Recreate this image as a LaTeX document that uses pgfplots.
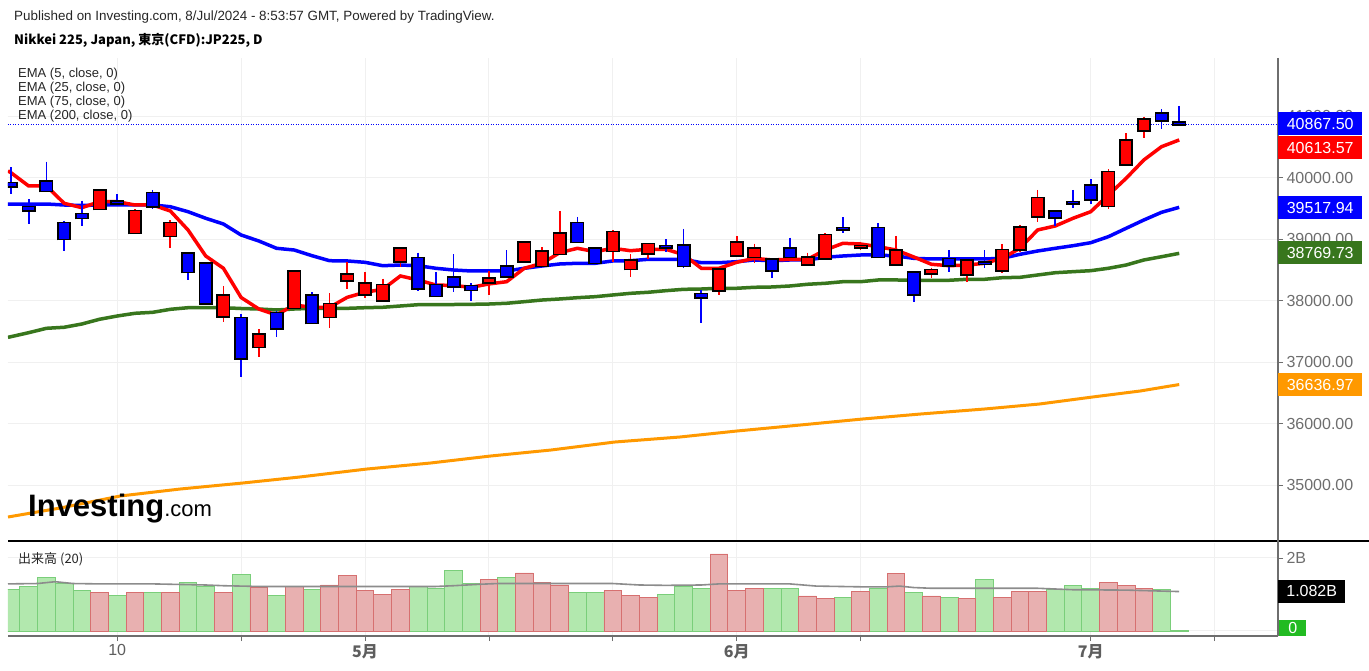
\documentclass[border=0pt]{standalone}
\usepackage{fontspec}
\setmainfont{Liberation Sans}
\newfontfamily\cjk{Noto Sans CJK JP}
\usepackage{pgfplots}
\usepackage{pgfplotstable}
\pgfplotsset{compat=1.18}

\definecolor{emagreen}{RGB}{56,118,29}
\definecolor{emaorange}{RGB}{255,153,0}
\definecolor{volred}{RGB}{232,176,176}
\definecolor{volredd}{RGB}{214,112,112}
\definecolor{volgreen}{RGB}{178,232,174}
\definecolor{volgreend}{RGB}{122,206,122}
\definecolor{gridc}{RGB}{240,240,240}
\definecolor{tickc}{RGB}{110,110,110}
\definecolor{zerogreen}{RGB}{34,187,34}

% x open high low close
\pgfplotstableread{
x O H L C
5 39496 39810 39480 39789
7 39106 39486 39096 39454
9 39057 39312 38852 39259
12 37751 38239 37659 38081
14 37252 37535 37080 37447
16 37886 38480 37880 38472
18 37740 38120 37561 37942
19 38332 38629 38195 38423
20 38109 38467 38049 38276
21 38011 38358 37974 38250
22 38646 38868 38553 38841
27 38299 38483 38093 38353
29 38646 38966 38629 38943
30 38569 38873 38553 38792
31 38764 39459 38743 39089
34 38813 39150 38634 39112
35 38520 38759 38390 38646
36 38771 38930 38678 38917
40 38174 38510 38093 38499
41 38738 39052 38730 38943
42 38715 38927 38608 38841
45 38592 38781 38585 38694
46 38689 39096 38680 39063
48 38870 38959 38824 38885
50 38597 39052 38590 38813
52 38450 38537 38364 38494
54 38429 38660 38299 38646
56 38499 38922 38446 38820
57 38841 39231 38797 39187
58 39372 39800 39275 39665
62 39545 40137 39491 40088
63 40223 40722 40206 40597
64 40771 40992 40641 40938
}\upc
\pgfplotstableread{
x O H L C
0 39909 40169 39735 39865
1 39519 39649 39247 39475
2 39935 40260 39770 39789
3 39259 39296 38808 39008
4 39405 39626 39220 39350
6 39610 39730 39556 39590
8 39746 39800 39486 39540
10 38764 38780 38337 38472
11 38597 38610 37950 37958
13 37714 37784 36764 37063
15 37795 37833 37415 37551
17 38081 38137 37630 37642
23 38689 38781 38163 38202
24 38250 38467 38075 38081
25 38377 38759 38146 38239
26 38234 38283 38000 38179
28 38548 38824 38364 38402
32 39259 39361 38950 38959
33 38841 38873 38610 38618
37 38885 38998 38787 38870
38 38889 39166 38537 38569
39 38104 38174 37633 38055
43 38667 38680 38364 38494
44 38841 39024 38705 38715
47 39180 39356 39096 39160
49 39177 39259 38705 38715
51 38450 38460 37984 38104
53 38673 38824 38472 38576
55 38620 38824 38527 38600
59 39447 39460 39220 39356
60 39600 39800 39512 39585
61 39870 39974 39567 39649
65 41036 41112 40787 40938
66 40890 41166 40850 40867.5
}\dnc

\pgfplotsset{
  wick/.style={draw=none, mark=none, error bars/.cd, y dir=minus, y explicit, error mark=none,
     error bar style={draw=#1, line width=1.7pt, solid}},
  bodyb/.style={draw=none, mark=none, error bars/.cd, y dir=plus, y explicit, error mark=none,
     error bar style={draw=black, line width=14pt, line cap=butt, solid}},
  bodyf/.style={draw=none, mark=none, error bars/.cd, y dir=plus, y explicit, error mark=none,
     error bar style={draw=#1, line width=10.6pt, line cap=butt, solid}},
}

\begin{document}
\begin{tikzpicture}
\useasboundingbox (0,0) rectangle (1369pt,670pt);
\fill[white] (0,0) rectangle (1369pt,670pt);

% ---------------- price panel ----------------
\begin{axis}[
  at={(8pt,129pt)}, anchor=south west, scale only axis,
  width=1270pt, height=483pt,
  xmin=-0.17, xmax=71.58, ymin=34093, ymax=41946,
  axis line style={draw=none},
  xtick={6,13,20,27,34,41,48,61,68}, xticklabels={},
  xtick style={draw=none},
  ytick={35000,36000,37000,38000,39000,40000,41000},
  ytick pos=right, yticklabel pos=right,
  tick align=outside, major tick length=5pt,
  ytick style={draw=tickc, line width=0.8pt},
  scaled y ticks=false,
  yticklabel style={font=\fontsize{16}{18}\selectfont, text=tickc},
  /pgf/number format/fixed, /pgf/number format/fixed zerofill,
  /pgf/number format/precision=2, /pgf/number format/1000 sep={},
  /pgf/number format/assume math mode=true,
  grid=major, major grid style={draw=gridc, line width=1pt},
]
% EMA 200
\addplot[emaorange, line width=3pt, mark=none] coordinates {
(-0.17,34483)(2.77,34629)(6.16,34824)(9.55,34938)(13.1,35036)(16.3,35133)(20.1,35263)(23.7,35361)(27.1,35475)(30.5,35572)(34.1,35702)(37.8,35784)(41,35881)(44.6,35979)(48.1,36076)(51.4,36158)(55,36239)(58.1,36320)(61.1,36434)(63.8,36532)(66,36636.97)};
% EMA 75
\addplot[emagreen, line width=3.5pt, mark=none] coordinates {
(-0.17,37405)(0,37415)(1,37480)(2,37551)(3,37568)(4,37621)(5,37698)(6,37751)(7,37795)(8,37811)(9,37860)(10,37886)(11,37886)(12,37886)(13,37873)(14,37865)(15,37849)(16,37865)(17,37876)(18,37876)(19,37876)(20,37886)(21,37893)(22,37914)(23,37935)(24,37935)(25,37938)(26,37941)(27,37946)(28,37958)(29,37984)(30,38011)(31,38028)(32,38049)(33,38065)(34,38093)(35,38120)(36,38137)(37,38163)(38,38185)(39,38190)(40,38202)(41,38202)(42,38218)(43,38223)(44,38239)(45,38267)(46,38283)(47,38309)(48,38309)(49,38337)(50,38337)(51,38332)(52,38332)(53,38332)(54,38348)(55,38348)(56,38374)(57,38380)(58,38418)(59,38455)(60,38472)(61,38488)(62,38527)(63,38580)(64,38662)(65,38715)(66,38769.73)};
% EMA 25
\addplot[blue, line width=3.5pt, mark=none] coordinates {
(-0.17,39572)(0,39572)(1,39572)(2,39572)(3,39556)(4,39548)(5,39556)(6,39556)(7,39556)(8,39556)(9,39528)(10,39447)(11,39340)(12,39247)(13,39068)(14,38971)(15,38852)(16,38824)(17,38732)(18,38650)(19,38646)(20,38624)(21,38569)(22,38580)(23,38569)(24,38527)(25,38499)(26,38483)(27,38483)(28,38483)(29,38527)(30,38564)(31,38597)(32,38608)(33,38608)(34,38646)(35,38650)(36,38673)(37,38673)(38,38673)(39,38618)(40,38618)(41,38634)(42,38662)(43,38650)(44,38662)(45,38662)(46,38706)(47,38727)(48,38743)(49,38743)(50,38727)(51,38689)(52,38678)(53,38678)(54,38678)(55,38678)(56,38689)(57,38754)(58,38808)(59,38852)(60,38894)(61,38943)(62,39041)(63,39177)(64,39312)(65,39437)(66,39517.94)};
% EMA 5
\addplot[red, line width=3.5pt, mark=none] coordinates {
(-0.17,40110)(0,40081)(1,39865)(2,39865)(3,39584)(4,39512)(5,39610)(6,39610)(7,39556)(8,39556)(9,39459)(10,39150)(11,38727)(12,38527)(13,38052)(14,37865)(15,37767)(16,37930)(17,37893)(18,37893)(19,38055)(20,38137)(21,38185)(22,38402)(23,38337)(24,38255)(25,38247)(26,38218)(27,38272)(28,38309)(29,38527)(30,38608)(31,38781)(32,38852)(33,38797)(34,38852)(35,38813)(36,38836)(37,38836)(38,38748)(39,38527)(40,38527)(41,38624)(42,38689)(43,38662)(44,38673)(45,38673)(46,38824)(47,38933)(48,38922)(49,38878)(50,38824)(51,38711)(52,38592)(53,38569)(54,38580)(55,38608)(56,38689)(57,38852)(58,39150)(59,39215)(60,39340)(61,39447)(62,39719)(63,39990)(64,40288)(65,40504)(66,40613.57)};
% last price line
\addplot[blue, line width=1pt, dash pattern=on 1pt off 1.5pt, mark=none] coordinates {(-0.17,40867.5)(71.58,40867.5)};
% candles: wicks
\addplot[wick=red] table[x=x, y=H, y error minus expr=\thisrow{H}-\thisrow{L}] {\upc};
\addplot[wick=blue] table[x=x, y=H, y error minus expr=\thisrow{H}-\thisrow{L}] {\dnc};
% up bodies (open below close)
\addplot[bodyb] table[x=x, y expr=\thisrow{O}-26, y error plus expr=\thisrow{C}-\thisrow{O}+52] {\upc};
\addplot[bodyf=red] table[x=x, y=O, y error plus expr=\thisrow{C}-\thisrow{O}] {\upc};
% down bodies (close below open)
\addplot[bodyb] table[x=x, y expr=\thisrow{C}-26, y error plus expr=\thisrow{O}-\thisrow{C}+52] {\dnc};
\addplot[bodyf=blue] table[x=x, y=C, y error plus expr=\thisrow{O}-\thisrow{C}] {\dnc};
\end{axis}

% ---------------- volume panel ----------------
\begin{axis}[
  at={(8pt,34pt)}, anchor=south west, scale only axis,
  width=1270pt, height=93pt,
  xmin=-0.17, xmax=71.58, ymin=-0.137, ymax=2.41,
  axis line style={draw=none},
  ybar, bar width=1, bar shift=0pt,
  xtick={6,13,20,27,34,41,48,61,68},
  xticklabels={10,,{\cjk\bfseries 5月},,,{\cjk\bfseries 6月},,{\cjk\bfseries 7月},},
  xtick pos=bottom, ytick pos=right, yticklabel pos=right,
  ytick={0,2}, yticklabels={,2B},
  tick align=outside, major tick length=5pt,
  tick style={draw=tickc, line width=0.8pt},
  xticklabel style={font=\fontsize{16}{18}\selectfont, text=tickc!85!black},
  yticklabel style={font=\fontsize{16}{18}\selectfont, text=tickc},
  grid=major, major grid style={draw=gridc, line width=1pt},
]
\addplot[fill=volgreen, draw=volgreend, line width=0.8pt] coordinates {
(0,1.14)(1,1.21)(2,1.46)(3,1.30)(4,1.10)(6,0.97)(8,1.05)(10,1.33)(11,1.23)(13,1.54)(15,0.97)(17,1.13)(23,1.21)(24,1.18)(25,1.67)(26,1.30)(28,1.46)(32,1.05)(33,1.05)(37,1.01)(38,1.21)(39,1.17)(43,1.17)(44,1.17)(47,0.92)(49,1.17)(51,1.05)(53,0.92)(55,1.42)(59,1.14)(60,1.24)(61,1.17)(65,1.14)(66,0.01)};
\addplot[fill=volred, draw=volredd, line width=0.8pt] coordinates {
(5,1.05)(7,1.05)(9,1.05)(12,1.05)(14,1.19)(16,1.21)(18,1.26)(19,1.51)(20,1.10)(21,1.01)(22,1.13)(27,1.42)(29,1.59)(30,1.34)(31,1.26)(34,1.10)(35,0.97)(36,0.92)(40,2.11)(41,1.12)(42,1.17)(45,0.96)(46,0.88)(48,1.08)(50,1.58)(52,0.96)(54,0.88)(56,0.92)(57,1.08)(58,1.08)(62,1.33)(63,1.25)(64,1.17)};
\addplot[sharp plot, black!45, line width=1.6pt, mark=none] coordinates {
(-0.17,1.29)(1.5,1.30)(2.5,1.35)(3.5,1.30)(5,1.29)(8,1.29)(11,1.26)(12,1.24)(14,1.22)(19,1.22)(24,1.22)(25,1.24)(26.5,1.28)(27.5,1.30)(34,1.30)(35.5,1.26)(37,1.25)(39,1.26)(40,1.29)(44,1.29)(45.5,1.23)(48,1.21)(49.5,1.21)(50.2,1.23)(51,1.19)(52,1.17)(58,1.17)(60,1.13)(63,1.12)(66,1.08)};
\end{axis}

% ---------------- frame lines ----------------
\draw[black, line width=2pt] (8pt,129pt) -- (1369pt,129pt);
\draw[tickc, line width=1.2pt] (1278pt,612pt) -- (1278pt,34pt);
\draw[tickc, line width=1.2pt] (8pt,34pt) -- (1278pt,34pt);

% ---------------- value labels ----------------
\tikzset{vlab/.style={anchor=west, inner sep=0pt, minimum width=84pt, minimum height=23pt, text=white, font=\fontsize{16}{18}\selectfont}}
\node[vlab, fill=blue] at (1278pt,546.5pt) {40867.50};
\node[vlab, fill=red] at (1278pt,522pt) {40613.57};
\node[vlab, fill=blue] at (1278pt,462.5pt) {39517.94};
\node[vlab, fill=emagreen] at (1278pt,417pt) {38769.73};
\node[vlab, fill=emaorange] at (1278pt,285.5pt) {36636.97};
\node[vlab, fill=black, minimum width=67pt] at (1278pt,79pt) {1.082B};
\node[anchor=south west, inner sep=0pt, minimum width=27pt, minimum height=16pt, fill=zerogreen, text=white, font=\fontsize{16}{18}\selectfont] at (1279pt,34pt) {0};

% ---------------- texts ----------------
\node[anchor=west, inner sep=0pt, font=\fontsize{13.4}{15}\selectfont, text=black!85] at (14pt,653pt) {Published on Investing.com, 8/Jul/2024 - 8:53:57 GMT, Powered by TradingView.};
\node[anchor=west, inner sep=0pt, font=\cjk\bfseries\fontsize{13}{15}\selectfont] at (14pt,630pt) {Nikkei 225, Japan, 東京(CFD):JP225, D};
\node[anchor=north west, align=left, inner sep=0pt, font=\fontsize{13}{14}\selectfont, text=black!85] at (18pt,602pt) {EMA (5, close, 0)\\EMA (25, close, 0)\\EMA (75, close, 0)\\EMA (200, close, 0)};
\node[anchor=west, inner sep=0pt, font=\cjk\fontsize{13}{14}\selectfont, text=black!85] at (18pt,111pt) {出来高 (20)};
\node[anchor=base west, inner sep=0pt] at (28pt,153pt) {\fontsize{31}{31}\selectfont\bfseries Investing\fontsize{22}{22}\selectfont\mdseries .com};
\end{tikzpicture}
\end{document}
